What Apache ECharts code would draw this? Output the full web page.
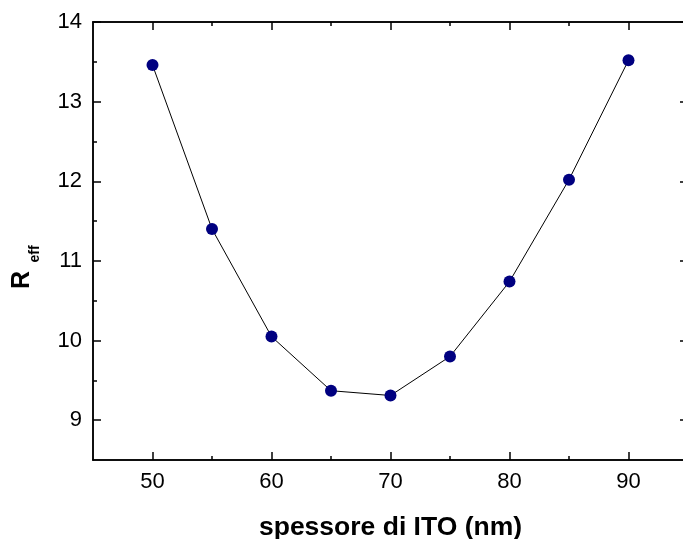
<!DOCTYPE html>
<html><head><meta charset="utf-8">
<script src="https://cdn.jsdelivr.net/npm/echarts@6/dist/echarts.min.js"></script>
<style>html,body{margin:0;padding:0;background:#fff}#c{width:683px;height:539px}</style>
</head><body><div id="c"></div>
<script>
const thickness = [50, 55, 60, 65, 70, 75, 80, 85, 90];
const reff = [13.46, 11.40, 10.05, 9.37, 9.31, 9.80, 10.74, 12.02, 13.52];
const xMajorTicks = [50, 60, 70, 80, 90];
const xMinorTicks = [55, 65, 75, 85];
const yMajorTicks = [9, 10, 11, 12, 13, 14];
const yMinorTicks = [9.5, 10.5, 11.5, 12.5, 13.5];
const xTitle = 'spessore di ITO (nm)';
const yTitleMain = 'R';
const yTitleSub = 'eff';

const chart = echarts.init(document.getElementById('c'));
const font = 'Liberation Sans, Arial, sans-serif';
const X_MIN = 45, X_MAX = 95, Y_MIN = 8.5, Y_MAX = 14;

function mkAxis(kind, pos, ticks, tickLen, withLabels, extra) {
  const isX = kind === 'x';
  const ax = {
    type: 'value', position: pos,
    min: isX ? X_MIN : Y_MIN, max: isX ? X_MAX : Y_MAX,
    axisLine: {show: true, onZero: false, lineStyle: {color: '#000', width: 1.5}},
    axisTick: {show: true, inside: true, length: tickLen, customValues: ticks,
      lineStyle: {color: '#000', width: 1.5}},
    axisLabel: withLabels
      ? {show: true, customValues: ticks, color: '#000', fontSize: 22, fontFamily: font,
         margin: 11}
      : {show: false},
    splitLine: {show: false}
  };
  return Object.assign(ax, extra || {});
}

chart.setOption({
  animation: false,
  grid: {left: 93, top: 22, width: 595, height: 438, containLabel: false, outerBoundsMode: 'none'},
  xAxis: [
    mkAxis('x', 'bottom', xMajorTicks, 8, true, {
      name: xTitle, nameLocation: 'middle', nameGap: 54,
      nameTextStyle: {color: '#000', fontSize: 26.5, fontWeight: 'bold', fontFamily: font}
    }),
    mkAxis('x', 'bottom', xMinorTicks, 4, false),
    mkAxis('x', 'top', xMajorTicks, 8, false),
    mkAxis('x', 'top', xMinorTicks, 4, false)
  ],
  yAxis: [
    mkAxis('y', 'left', yMajorTicks, 8, true),
    mkAxis('y', 'left', yMinorTicks, 4, false),
    mkAxis('y', 'right', yMajorTicks, 8, false),
    mkAxis('y', 'right', yMinorTicks, 4, false)
  ],
  graphic: [
    {type: 'text', x: 22, y: 280, rotation: Math.PI / 2,
      style: {text: yTitleMain, fill: '#000', font: 'bold 25px ' + font, align: 'center', verticalAlign: 'middle'}},
    {type: 'text', x: 35.5, y: 254, rotation: Math.PI / 2,
      style: {text: yTitleSub, fill: '#000', font: 'bold 14px ' + font, align: 'center', verticalAlign: 'middle'}}
  ],
  series: [{
    type: 'line',
    xAxisIndex: 0, yAxisIndex: 0,
    data: thickness.map((x, i) => [x, reff[i]]),
    symbol: 'circle', symbolSize: 12,
    itemStyle: {color: '#000080'},
    lineStyle: {color: '#000', width: 1},
    z: 5
  }]
});
</script></body></html>
